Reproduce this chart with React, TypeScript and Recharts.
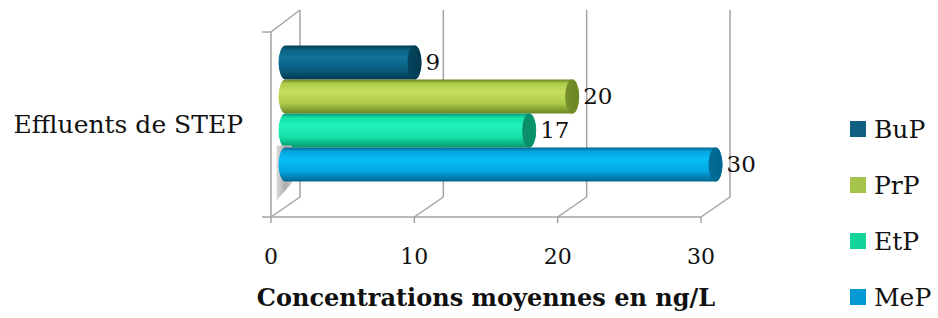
import React from "react";
import {
  BarChart,
  Bar,
  XAxis,
  YAxis,
  CartesianGrid,
  LabelList,
} from "recharts";

const categories = ["Effluents de STEP"];
const seriesNames = ["BuP", "PrP", "EtP", "MeP"];
const BuP = [9];
const PrP = [20];
const EtP = [17];
const MeP = [30];
const xTicks = [0, 10, 20, 30];

const seriesValues: Record<string, number[]> = { BuP, PrP, EtP, MeP };

// legend swatch colour + cylinder shading
const legendColors: Record<string, string> = {
  BuP: "#0e5f80",
  PrP: "#a6c34b",
  EtP: "#13d49a",
  MeP: "#0599d3",
};
const shades: Record<string, { light: string; base: string; dark: string; cap: string }> = {
  BuP: { light: "#11729a", base: "#0a5f80", dark: "#033a50", cap: "#04475f" },
  PrP: { light: "#c4df5c", base: "#afcb4c", dark: "#6a8522", cap: "#76902c" },
  EtP: { light: "#22f2bc", base: "#15e0a8", dark: "#08946c", cap: "#0c8c68" },
  MeP: { light: "#0abdf5", base: "#02a6e0", dark: "#02668e", cap: "#036d98" },
};

const data = categories.map((name, i) => {
  const row: Record<string, string | number> = { name };
  seriesNames.forEach((s) => (row[s] = seriesValues[s][i]));
  return row;
});

const FONT = "'DejaVu Serif', 'Liberation Serif', serif";
const GRID = "#a3a3a3";
// 3D depth offsets (back wall vs front plane); bars sit halfway
const DEPTH_X = 29;
const DEPTH_Y = -21;
const DX = DEPTH_X / 2;
const DY = DEPTH_Y / 2;
const RX = 7;

function Cylinder(props: any) {
  const { x, y, width, height, s } = props;
  if (width == null || height == null) return null;
  const x0 = x + DX;
  const x1 = x + DX + width;
  const top = y + DY;
  const ry = height / 2;
  const d = `M ${x0} ${top} L ${x1} ${top} A ${RX} ${ry} 0 0 1 ${x1} ${top + height} L ${x0} ${top + height} A ${RX} ${ry} 0 0 1 ${x0} ${top} Z`;
  const last = s === seriesNames[seriesNames.length - 1];
  return (
    <g>
      {last && (
        <polygon
          points={`${x0 - 9},${top - 2} ${x0 + 6},${top - 2} ${x0 + 6},${top + height + 2} ${x0 - 9},${top + height + 19}`}
          fill="url(#shadow)"
        />
      )}
      <path d={d} fill={`url(#grad-${s})`} />
      <ellipse cx={x1} cy={top + ry} rx={RX} ry={ry} fill={`url(#cap-${s})`} />
    </g>
  );
}

function ValueLabel(props: any) {
  const { x, y, width, height, value } = props;
  return (
    <text
      x={x + DX + width + RX + 4}
      y={y + DY + height / 2 + 1}
      dominantBaseline="middle"
      fontFamily={FONT}
      fontSize={23}
      fill="#111"
    >
      {value}
    </text>
  );
}

function WallLine(props: any) {
  const { x1, y1, y2, index } = props;
  const yt = Math.min(y1, y2);
  const yb = Math.max(y1, y2);
  return (
    <g key={`wall-${index}`} stroke={GRID} strokeWidth={1.5} fill="none">
      <line x1={x1 + DEPTH_X} y1={yt + DEPTH_Y - 1} x2={x1 + DEPTH_X} y2={yb + DEPTH_Y + 1} />
      <line x1={x1} y1={yb} x2={x1 + DEPTH_X} y2={yb + DEPTH_Y + 1} />
      {index === 0 && (
        <>
          <line x1={x1} y1={yt} x2={x1 + DEPTH_X} y2={yt + DEPTH_Y - 1} />
          <line x1={x1 - 9} y1={yt} x2={x1} y2={yt} />
          <line x1={x1 - 9} y1={yb} x2={x1} y2={yb} />
        </>
      )}
    </g>
  );
}

function LegendBox() {
  return (
    <div
      style={{
        position: "absolute",
        left: 850,
        top: 101,
        fontFamily: FONT,
        fontSize: 25,
        color: "#111",
      }}
    >
      {seriesNames.map((s) => (
        <div key={s} style={{ display: "flex", alignItems: "center", height: 56 }}>
          <span
            style={{
              display: "inline-block",
              width: 16,
              height: 16,
              background: legendColors[s],
              marginRight: 8,
            }}
          />
          <span>{s}</span>
        </div>
      ))}
    </div>
  );
}

export default function App() {
  return (
    <div style={{ position: "absolute", left: 0, top: 0, width: 938, height: 318, background: "#fff" }}>
      <BarChart
        width={938}
        height={318}
        data={data}
        layout="vertical"
        margin={{ top: 32, right: 237, bottom: 0, left: 0 }}
        barCategoryGap={24}
        barGap={0}
      >
        <defs>
          {seriesNames.map((s) => (
            <React.Fragment key={s}>
              <linearGradient id={`grad-${s}`} x1="0" y1="0" x2="0" y2="1">
                <stop offset="0%" stopColor={shades[s].dark} />
                <stop offset="12%" stopColor={shades[s].base} />
                <stop offset="35%" stopColor={shades[s].light} />
                <stop offset="70%" stopColor={shades[s].base} />
                <stop offset="100%" stopColor={shades[s].dark} />
              </linearGradient>
              <linearGradient id={`cap-${s}`} x1="0" y1="0" x2="1" y2="0">
                <stop offset="0%" stopColor={shades[s].cap} />
                <stop offset="100%" stopColor={shades[s].dark} />
              </linearGradient>
            </React.Fragment>
          ))}
          <linearGradient id="shadow" x1="0" y1="0" x2="1" y2="0">
            <stop offset="0%" stopColor="#dcdcdc" />
            <stop offset="60%" stopColor="#ababab" />
            <stop offset="100%" stopColor="#c8c8c8" />
          </linearGradient>
        </defs>
        <CartesianGrid
          horizontal={false}
          vertical={(p: any) => <WallLine {...p} />}
        />
        <XAxis
          type="number"
          domain={[0, 30]}
          ticks={xTicks}
          height={101}
          tickSize={6}
          tickMargin={25}
          axisLine={{ stroke: GRID, strokeWidth: 1.5 }}
          tickLine={{ stroke: GRID, strokeWidth: 1.5 }}
          tick={{ fontFamily: FONT, fontSize: 22, fill: "#111" }}
          label={{
            value: "Concentrations moyennes en ng/L",
            position: "insideBottom",
            offset: 12,
            style: { fontFamily: FONT, fontSize: 24, fontWeight: 700, fill: "#111" },
          }}
        />
        <YAxis
          type="category"
          dataKey="name"
          width={271}
          tickSize={0}
          tickMargin={28}
          tickLine={false}
          axisLine={{ stroke: GRID, strokeWidth: 1.5 }}
          tick={{ fontFamily: FONT, fontSize: 25, fill: "#111" }}
        />
        {seriesNames.map((s) => (
          <Bar
            key={s}
            dataKey={s}
            isAnimationActive={false}
            shape={(p: any) => <Cylinder {...p} s={s} />}
          >
            <LabelList dataKey={s} content={(p: any) => <ValueLabel {...p} />} />
          </Bar>
        ))}
      </BarChart>
      <LegendBox />
    </div>
  );
}
